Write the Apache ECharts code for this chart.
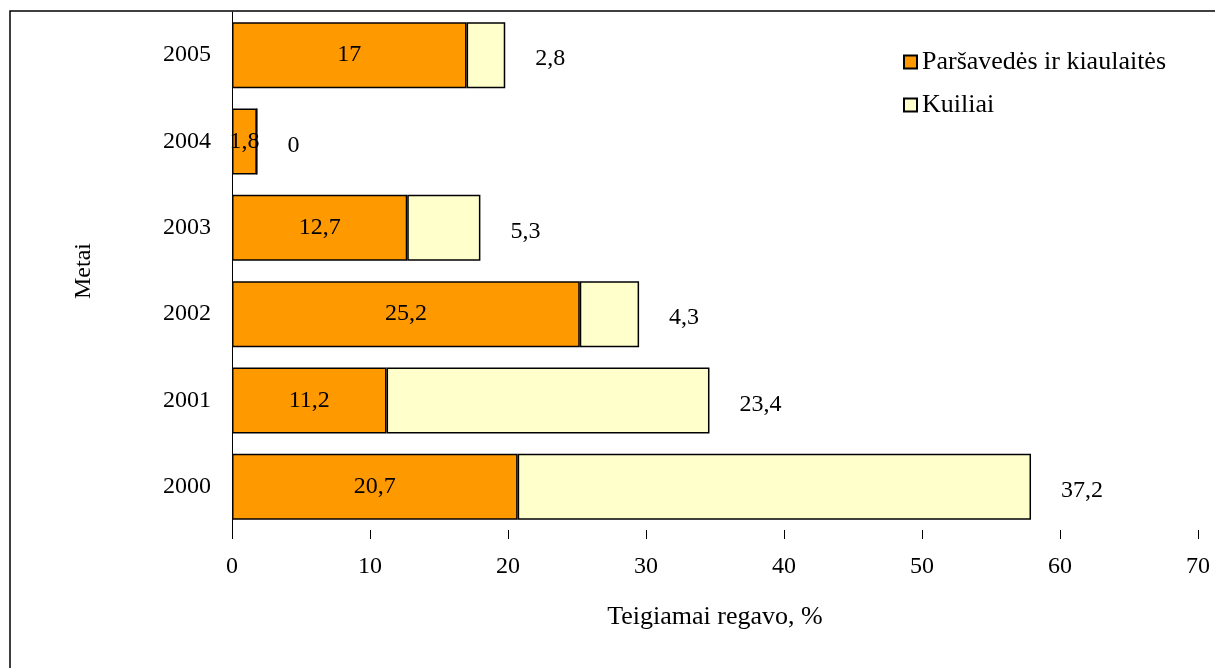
<!DOCTYPE html>
<html>
<head>
<meta charset="utf-8">
<script src="https://cdn.jsdelivr.net/npm/echarts@6/dist/echarts.min.js"></script>
<style>
  html, body { margin: 0; padding: 0; background: #fff; }
  #main { width: 1215px; height: 668px; }
</style>
</head>
<body>
<div id="main"></div>
<script>
// metai (iš apačios į viršų)
var years = ['2000', '2001', '2002', '2003', '2004', '2005'];
var sows = [20.7, 11.2, 25.2, 12.7, 1.8, 17];
var boars = [37.2, 23.4, 4.3, 5.3, 0, 2.8];
var xTicks = [0, 10, 20, 30, 40, 50, 60, 70];

var font = '"Liberation Serif", "Times New Roman", serif';
var fmt = function (p) { return String(p.value).replace('.', ','); };

var chart = echarts.init(document.getElementById('main'));
chart.setOption({
  animation: false,
  textStyle: { fontFamily: font, color: '#000' },
  graphic: [{
    type: 'rect',
    shape: { x: 10, y: 11, width: 1240, height: 700 },
    style: { fill: 'none', stroke: '#000', lineWidth: 1.5 },
    silent: true
  }],
  legend: {
    orient: 'vertical',
    left: 898,
    top: 44,
    icon: 'rect',
    itemWidth: 13,
    itemHeight: 13,
    itemGap: 17,
    textStyle: { fontFamily: font, fontSize: 26, color: '#000' },
    data: ['Paršavedės ir kiaulaitės', 'Kuiliai']
  },
  grid: { left: 232, right: 17, top: 12, bottom: 138 },
  xAxis: {
    type: 'value',
    min: xTicks[0],
    max: xTicks[xTicks.length - 1],
    interval: 10,
    name: 'Teigiamai regavo, %',
    nameLocation: 'middle',
    nameGap: 74,
    nameTextStyle: { fontFamily: font, fontSize: 26, color: '#000' },
    axisLine: { lineStyle: { color: '#000', width: 1 } },
    axisTick: { show: true, inside: false, length: 9, lineStyle: { color: '#000' } },
    axisLabel: { margin: 25, fontFamily: font, fontSize: 24, color: '#000' },
    splitLine: { show: false }
  },
  yAxis: {
    type: 'category',
    data: years,
    name: 'Metai',
    nameLocation: 'middle',
    nameGap: 136,
    nameTextStyle: { fontFamily: font, fontSize: 24, color: '#000' },
    axisLine: { lineStyle: { color: '#000', width: 1 } },
    axisTick: { show: false },
    axisLabel: { margin: 21, fontFamily: font, fontSize: 24, color: '#000' }
  },
  series: [{
    name: 'Paršavedės ir kiaulaitės',
    type: 'bar',
    stack: 'total',
    barCategoryGap: '23.5%',
    data: sows,
    itemStyle: { color: '#FF9900', borderColor: '#000', borderWidth: 1.5 },
    label: {
      show: true,
      position: 'inside',
      formatter: fmt,
      fontFamily: font,
      fontSize: 24,
      color: '#000'
    }
  }, {
    name: 'Kuiliai',
    type: 'bar',
    stack: 'total',
    data: boars,
    itemStyle: { color: '#FFFFCC', borderColor: '#000', borderWidth: 1.5 },
    label: {
      show: true,
      position: 'right',
      distance: 30,
      offset: [0, 4],
      formatter: fmt,
      fontFamily: font,
      fontSize: 24,
      color: '#000'
    }
  }]
});
</script>
</body>
</html>
